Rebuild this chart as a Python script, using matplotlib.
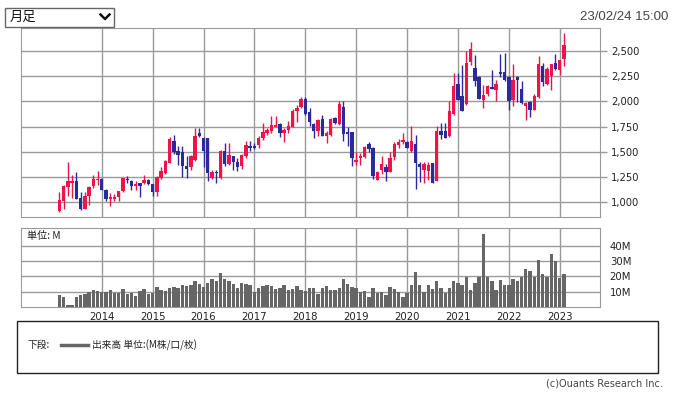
import numpy as np
import matplotlib
matplotlib.use('Agg')
import matplotlib.pyplot as plt
from matplotlib.patches import Rectangle
from matplotlib.lines import Line2D

jp = ['Noto Sans CJK JP', 'DejaVu Sans']

# monthly candles, Mar 2013 .. Feb 2023
start_year, start_month = 2013, 3
opens = [907, 1007, 1147, 1190, 1213, 1040, 933, 1063, 1157, 1217,
         1233, 1123, 1030, 1030, 1047, 1107, 1233, 1213, 1157, 1190,
         1190, 1223, 1183, 1097, 1240, 1289, 1388, 1609, 1510, 1493,
         1355, 1349, 1421, 1684, 1635, 1635, 1240, 1296, 1234, 1510,
         1382, 1454, 1395, 1355, 1454, 1559, 1553, 1569, 1635, 1684,
         1701, 1750, 1776, 1684, 1711, 1750, 1908, 1947, 2020, 1892,
         1776, 1701, 1826, 1658, 1668, 1839, 1773, 1947, 1691, 1691,
         1395, 1438, 1444, 1572, 1539, 1220, 1316, 1352, 1303, 1447,
         1566, 1595, 1595, 1507, 1572, 1382, 1316, 1309, 1385, 1210,
         1704, 1704, 1655, 1878, 2175, 2053, 1974, 2392, 2331, 2242,
         2010, 2070, 2142, 2109, 2291, 2291, 2242, 2010, 2242, 2126,
         1950, 1993, 1917, 2043, 2348, 2175, 2248, 2384, 2314, 2417]
highs = [1097, 1170, 1397, 1273, 1297, 1097, 1097, 1157, 1267, 1307,
         1240, 1133, 1090, 1080, 1113, 1243, 1263, 1220, 1207, 1190,
         1273, 1233, 1183, 1263, 1349, 1421, 1645, 1668, 1553, 1553,
         1454, 1467, 1740, 1733, 1645, 1640, 1322, 1322, 1513, 1586,
         1586, 1461, 1437, 1475, 1602, 1609, 1586, 1651, 1783, 1734,
         1855, 1855, 1790, 1734, 1800, 1924, 1964, 2046, 2046, 1931,
         1783, 1820, 1865, 1701, 1832, 1842, 2003, 2003, 1750, 1695,
         1493, 1487, 1553, 1599, 1546, 1309, 1457, 1382, 1500, 1595,
         1628, 1681, 1605, 1760, 1661, 1398, 1398, 1398, 1391, 1760,
         1786, 1786, 2000, 2286, 2280, 2360, 2500, 2585, 2457, 2248,
         2159, 2159, 2308, 2209, 2467, 2480, 2248, 2367, 2248, 2199,
         1990, 2000, 2076, 2447, 2381, 2341, 2374, 2473, 2414, 2680]
lows = [900, 933, 1057, 1040, 1033, 923, 933, 967, 1137, 1173,
        1117, 1007, 957, 1007, 1007, 1100, 1190, 1117, 1123, 1047,
        1183, 1167, 1057, 1057, 1230, 1283, 1388, 1477, 1372, 1247,
        1234, 1322, 1411, 1641, 1351, 1207, 1224, 1191, 1230, 1355,
        1372, 1322, 1306, 1329, 1437, 1510, 1526, 1536, 1619, 1668,
        1684, 1744, 1645, 1595, 1684, 1744, 1793, 1931, 1865, 1757,
        1635, 1651, 1651, 1586, 1651, 1776, 1767, 1602, 1553, 1355,
        1372, 1365, 1437, 1500, 1227, 1220, 1283, 1211, 1296, 1418,
        1533, 1579, 1533, 1500, 1128, 1201, 1184, 1220, 1184, 1204,
        1628, 1632, 1648, 1868, 2010, 1905, 1967, 2362, 2152, 2020,
        1934, 2053, 2119, 2000, 2242, 2202, 1911, 1950, 1993, 1977,
        1811, 1844, 1911, 2036, 2152, 2166, 2109, 2314, 2258, 2348]
closes = [1017, 1163, 1213, 1213, 1033, 933, 1063, 1147, 1233, 1233,
          1117, 1033, 1047, 1047, 1107, 1243, 1220, 1157, 1183, 1157,
          1223, 1183, 1097, 1250, 1312, 1405, 1625, 1500, 1467, 1355,
          1332, 1461, 1658, 1651, 1503, 1285, 1296, 1289, 1510, 1382,
          1464, 1398, 1345, 1470, 1569, 1540, 1540, 1635, 1691, 1711,
          1767, 1767, 1684, 1717, 1757, 1908, 1931, 2020, 1872, 1799,
          1701, 1816, 1658, 1684, 1826, 1790, 1974, 1674, 1674, 1438,
          1421, 1454, 1543, 1523, 1260, 1303, 1375, 1303, 1441, 1579,
          1595, 1618, 1539, 1605, 1391, 1352, 1375, 1365, 1187, 1704,
          1665, 1638, 1908, 2155, 2017, 1908, 2383, 2525, 2199, 2020,
          2060, 2149, 2126, 2175, 2275, 2209, 2000, 2209, 2209, 1983,
          1983, 1917, 2050, 2374, 2192, 2324, 2374, 2324, 2407, 2563]
# volume, millions
volumes = [8.0, 6.7, 1.1, 1.1, 6.7, 7.8, 8.7, 9.8, 11.3, 10.2,
           9.6, 9.8, 10.9, 8.9, 8.9, 12.0, 8.3, 8.9, 7.0, 10.2,
           12.0, 8.7, 9.3, 13.3, 11.3, 10.4, 12.2, 12.8, 12.2, 14.6,
           13.7, 14.3, 16.7, 15.0, 12.8, 15.7, 18.5, 17.0, 22.0, 18.5,
           17.2, 14.8, 12.2, 15.4, 15.0, 14.6, 10.0, 12.2, 13.9, 14.6,
           13.5, 11.7, 12.2, 14.6, 10.9, 11.7, 13.5, 11.1, 10.7, 12.6,
           12.2, 8.5, 12.2, 13.5, 11.3, 11.3, 12.6, 18.5, 15.2, 13.3,
           12.6, 10.0, 10.7, 6.7, 12.6, 8.9, 10.0, 8.0, 13.3, 12.0,
           10.0, 6.7, 8.9, 14.6, 23.0, 14.6, 10.0, 14.6, 11.5, 17.2,
           12.6, 8.9, 12.6, 17.2, 15.9, 14.6, 19.3, 11.3, 15.9, 19.3,
           47.8, 19.3, 17.2, 11.3, 17.8, 14.6, 14.6, 18.5, 17.0, 19.3,
           25.0, 23.7, 19.3, 30.4, 21.7, 19.8, 34.3, 30.2, 18.7, 21.7]
years = list(range(2014, 2024))
price_ticks = [1000, 1250, 1500, 1750, 2000, 2250, 2500]
vol_ticks = [10, 20, 30, 40]

up_color = '#ee1449'
down_color = '#2b2a9c'
grid_color = '#9a9a9a'

W, H = 674, 394
fig = plt.figure(figsize=(W / 100, H / 100), dpi=100)

def box(l, t, r, b):
    return [l / W, 1 - b / H, (r - l) / W, (b - t) / H]

x = np.arange(len(opens)) + (start_month - 1) + (start_year - 2013) * 12
o = np.array(opens); h = np.array(highs); lo = np.array(lows); c = np.array(closes)
col = np.where(c >= o, up_color, down_color)
year_x = [(y - 2013) * 12 for y in years]
xlim = (-7.05, 129.5)

# price panel
ax = fig.add_axes(box(21, 28, 600, 217))
ax.vlines(x, lo, h, colors=col, lw=1.0, zorder=3)
body_h = np.maximum(np.abs(c - o), 6)
ax.bar(x, body_h, bottom=np.minimum(o, c), width=0.8, color=col, zorder=4, linewidth=0)
ax.set_xlim(*xlim)
ax.set_ylim(851, 2729)
ax.set_xticks(year_x)
ax.set_xticklabels([])
ax.set_yticks(price_ticks)
ax.set_yticklabels(['{:,}'.format(v) for v in price_ticks])
ax.yaxis.tick_right()
ax.tick_params(axis='y', length=5, width=1, color=grid_color, pad=3, labelsize=7.2, labelcolor='#222')
ax.tick_params(axis='x', length=0)
ax.grid(True, color=grid_color, lw=1)
ax.set_axisbelow(True)
for s in ax.spines.values():
    s.set_color(grid_color)

# volume panel
axv = fig.add_axes(box(21, 228, 600, 307))
axv.bar(x, volumes, width=0.8, color='#666666', linewidth=0, zorder=3)
axv.set_xlim(*xlim)
axv.set_ylim(0, 51.5)
axv.set_yticks(vol_ticks)
axv.set_yticklabels(['%dM' % v for v in vol_ticks])
axv.yaxis.tick_right()
axv.tick_params(axis='y', length=0, pad=7, labelsize=7.3, labelcolor='#222')
axv.set_xticks(year_x)
axv.set_xticklabels([str(y) for y in years])
axv.tick_params(axis='x', length=0, pad=3.5, labelsize=7.3, labelcolor='#222')
axv.grid(True, color=grid_color, lw=1)
axv.set_axisbelow(True)
for s in axv.spines.values():
    s.set_color(grid_color)
axv.text(0.011, 0.9, '単位: M', transform=axv.transAxes, fontsize=7.3, family=jp,
         color='#222', va='center', ha='left')

# dropdown at top left
fig.patches.append(Rectangle((5 / W, 1 - 26.5 / H), 109 / W, 19 / H, transform=fig.transFigure,
                             fill=False, edgecolor='#666', lw=1))
fig.text(10 / W, 1 - 17.5 / H, '月足', fontsize=9.5, family=jp, color='#111', va='center', ha='left')
fig.lines.append(Line2D([100.5 / W, 105 / W, 109.5 / W], [1 - 14.5 / H, 1 - 19 / H, 1 - 14.5 / H],
                       transform=fig.transFigure, color='#111', lw=1.8))
fig.text(668 / W, 1 - 17 / H, '23/02/24 15:00', fontsize=9.5, family='Liberation Sans',
         color='#444', va='center', ha='right')

# legend box
fig.patches.append(Rectangle((17 / W, 1 - 373 / H), 641 / W, 52 / H, transform=fig.transFigure,
                             fill=False, edgecolor='#222', lw=1))
fig.text(28 / W, 1 - 345 / H, '下段:', fontsize=7, family=jp, color='#222', va='center', ha='left')
fig.lines.append(Line2D([61 / W, 88 / W], [1 - 345 / H, 1 - 345 / H], transform=fig.transFigure,
                        color='#666', lw=2.5))
fig.text(92 / W, 1 - 345 / H, '出来高 単位:(M株/口/枚)', fontsize=7, family=jp, color='#222',
         va='center', ha='left')
fig.text(663 / W, 1 - 384 / H, '(c)Ouants Research Inc.', fontsize=7, color='#444',
         va='center', ha='right')

plt.savefig('out.png', dpi=100)
